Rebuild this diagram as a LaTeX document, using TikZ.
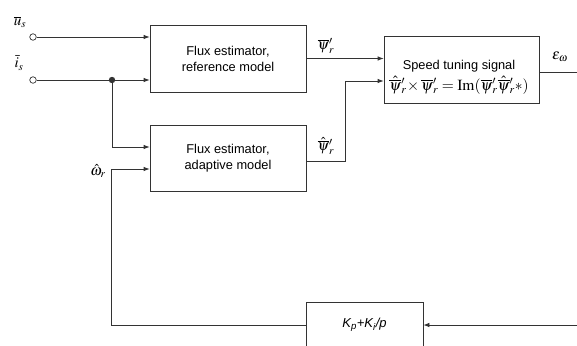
\documentclass[tikz,border=0pt]{standalone}
\usepackage{mathptmx}
\usepackage[no-math]{fontspec}
\setmainfont{Liberation Sans}
\usetikzlibrary{arrows.meta}
\begin{document}
\begin{tikzpicture}[x=1pt,y=-1pt,
  line width=0.75pt, draw={black!80},
  blk/.style={draw, rectangle, align=center, inner sep=0pt, font=\fontsize{12.8}{16}\selectfont},
  arr/.style={-{Latex[length=6pt,width=4.5pt]}},
  port/.style={draw, circle, fill=white, inner sep=0pt, minimum size=6.5pt, line width=0.7pt},
  lbl/.style={inner sep=0pt, font=\fontsize{15}{17}\selectfont}]
\useasboundingbox (0,0) rectangle (577,345);
% blocks
\node[blk, minimum width=156pt, minimum height=67pt] (ref) at (228,58.5) {Flux estimator,\\reference model};
\node[blk, minimum width=156pt, minimum height=66pt] (ada) at (228,158) {Flux estimator,\\adaptive model};
\node[blk, minimum width=155pt, minimum height=67pt] (spd) at (461.5,69.5) {};
\node[inner sep=0pt, align=center, font=\fontsize{12.8}{16}\selectfont] (spdt) at (459,77)
  {Speed tuning signal\\[3pt] \fontsize{15.5}{17}\selectfont $\hat{\overline{\psi}}{}_r'\!\times\overline{\psi}{}_r' = \mathrm{Im}(\overline{\psi}{}_r'\hat{\overline{\psi}}{}_r'{*})$};
\draw (306,350) |- (423,302) -- (423,350);
\node[inner sep=0pt, minimum width=117pt, font=\fontsize{13}{14}\selectfont] (pi) at (364.5,325) {\itshape K\textsubscript{p}+K\textsubscript{i}/p};
% ports
\node[port] (us) at (33,37) {};
\node[port] (is) at (33,80) {};
\node[lbl] (lus) at (20,22) {$\overline{u}_s$};
\node[lbl] (lis) at (19,63) {$\bar{i}_s$};
% junction
\coordinate (j) at (112,80);
\fill[black!80] (j) circle (3.2pt);
% connections
\draw[arr] (us) -- (us -| ref.west);
\draw[arr] (is) -- (is -| ref.west);
\draw[arr] (j) |- ([yshift=11pt]ada.west);
\coordinate (w) at (111,169);
\draw[arr] (pi.west) -| (w) -- (w -| ada.west);
\draw[arr] (ref.east) -- (ref.east -| spd.west);
\coordinate (a2) at (345,81);
\draw[arr] ([yshift=-3pt]ada.east) -| (a2) -- (a2 -| spd.west);
\coordinate (eout) at (577,72);
\draw (spd.east |- eout) -- (eout);
\coordinate (pin) at (577,325);
\draw[arr] (pin) -- (pi.east);
% labels
\node[lbl] (lpr) at (326,46) {$\overline{\psi}{}_r'$};
\node[lbl] (lpa) at (326,146) {$\hat{\overline{\psi}}{}_r'$};
\node[lbl] (lw) at (98,171) {$\hat{\omega}_r$};
\node[lbl] (le) at (560,57) {$\varepsilon_{\omega}$};
\end{tikzpicture}
\end{document}
